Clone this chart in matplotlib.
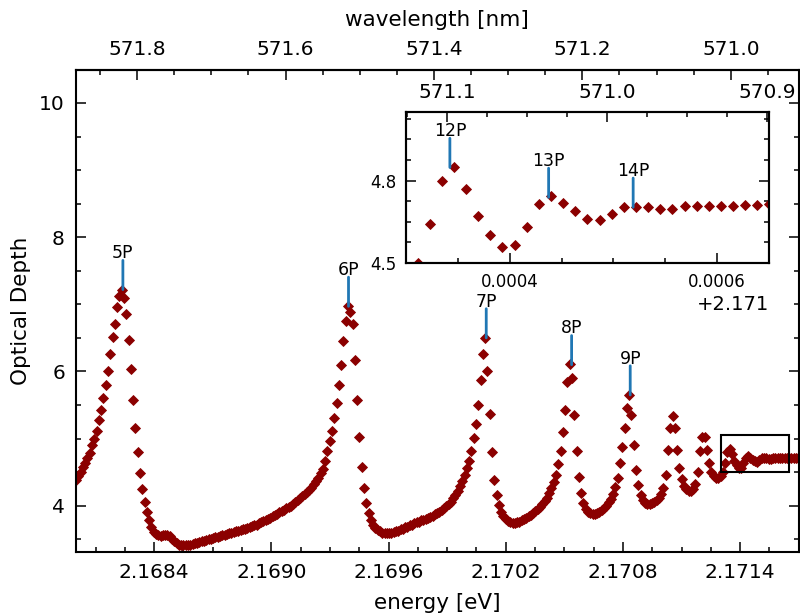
import matplotlib
matplotlib.use('Agg')
import matplotlib.pyplot as plt
from matplotlib.ticker import MultipleLocator, FixedLocator, ScalarFormatter, FormatStrFormatter
from matplotlib.patches import Rectangle
import numpy as np

HC = 1239.84198  # eV nm

# scan grid (uniform energy steps)
e_start = 2.1680
e_step = 1.17e-5

depth = [
    4.38, 4.44, 4.50, 4.57, 4.64, 4.71, 4.79, 4.90, 5.00, 5.12,
    5.27, 5.43, 5.60, 5.80, 6.01, 6.26, 6.51, 6.71, 6.96, 7.13,
    7.22, 7.09, 6.85, 6.47, 6.04, 5.58, 5.16, 4.80, 4.49, 4.25,
    4.05, 3.90, 3.78, 3.69, 3.61, 3.58, 3.56, 3.55, 3.56, 3.57,
    3.57, 3.55, 3.51, 3.47, 3.44, 3.42, 3.41, 3.41, 3.41, 3.42,
    3.42, 3.43, 3.44, 3.45, 3.46, 3.47, 3.48, 3.49, 3.50, 3.51,
    3.52, 3.53, 3.54, 3.55, 3.56, 3.57, 3.58, 3.59, 3.60, 3.61,
    3.62, 3.63, 3.64, 3.65, 3.66, 3.67, 3.68, 3.70, 3.71, 3.72,
    3.74, 3.75, 3.77, 3.78, 3.80, 3.82, 3.84, 3.86, 3.88, 3.90,
    3.92, 3.94, 3.96, 3.98, 4.00, 4.03, 4.06, 4.09, 4.11, 4.14,
    4.17, 4.20, 4.23, 4.27, 4.32, 4.37, 4.42, 4.48, 4.55, 4.66,
    4.81, 4.96, 5.11, 5.30, 5.53, 5.80, 6.10, 6.46, 6.75, 6.97,
    6.88, 6.70, 6.17, 5.58, 5.02, 4.58, 4.26, 4.04, 3.89, 3.79,
    3.72, 3.67, 3.64, 3.62, 3.60, 3.59, 3.59, 3.59, 3.60, 3.61,
    3.62, 3.63, 3.65, 3.66, 3.68, 3.69, 3.71, 3.72, 3.74, 3.75,
    3.76, 3.78, 3.79, 3.80, 3.82, 3.83, 3.85, 3.87, 3.89, 3.91,
    3.93, 3.96, 3.99, 4.02, 4.06, 4.11, 4.16, 4.22, 4.29, 4.37,
    4.46, 4.56, 4.67, 4.81, 5.01, 5.21, 5.50, 5.88, 6.26, 6.50,
    6.01, 5.37, 4.80, 4.38, 4.16, 4.01, 3.91, 3.84, 3.80, 3.77,
    3.75, 3.74, 3.74, 3.75, 3.76, 3.78, 3.80, 3.82, 3.84, 3.86,
    3.89, 3.92, 3.95, 3.98, 4.02, 4.07, 4.12, 4.19, 4.26, 4.35,
    4.46, 4.62, 4.81, 5.10, 5.43, 5.85, 6.11, 5.90, 5.35, 4.81,
    4.43, 4.19, 4.04, 3.95, 3.91, 3.89, 3.88, 3.88, 3.89, 3.91,
    3.93, 3.96, 4.00, 4.05, 4.10, 4.18, 4.28, 4.42, 4.63, 4.88,
    5.16, 5.46, 5.65, 5.35, 4.90, 4.53, 4.31, 4.16, 4.08, 4.04,
    4.03, 4.03, 4.04, 4.06, 4.09, 4.12, 4.17, 4.26, 4.45, 4.83,
    5.16, 5.33, 5.16, 4.83, 4.56, 4.40, 4.30, 4.25, 4.22, 4.22,
    4.25, 4.32, 4.50, 4.82, 5.03, 5.03, 4.83, 4.63, 4.50, 4.44,
    4.41, 4.41, 4.44, 4.500, 4.641, 4.800, 4.850, 4.768, 4.671, 4.602,
    4.558, 4.567, 4.631, 4.714, 4.743, 4.718, 4.688, 4.662, 4.656, 4.680,
    4.704, 4.704, 4.704, 4.696, 4.697, 4.708, 4.708, 4.706, 4.706, 4.709,
    4.711, 4.711, 4.714, 4.715, 4.716, 4.716, 4.717,
]
energy = e_start + e_step * np.arange(len(depth))

# exciton lines marked on the main panel
main_labels = ['5P', '6P', '7P', '8P', '9P']
main_line_e = [2.16824, 2.169395, 2.17010, 2.170537, 2.170837]
main_line_y = [7.22, 6.97, 6.50, 6.10, 5.65]

# exciton lines marked in the zoom panel
inset_labels = ['12P', '13P', '14P']
inset_line_e = [2.1713423, 2.1714375, 2.171519]
inset_line_y = [4.848, 4.739, 4.703]

main_xlim = (2.1680, 2.1717)
main_ylim = (3.31, 10.49)
wl_major = [571.8, 571.6, 571.4, 571.2, 571.0]
wl_minor = [571.85, 571.75, 571.7, 571.65, 571.55, 571.5, 571.45, 571.35, 571.3,
            571.25, 571.15, 571.1, 571.05, 570.95]

inset_xlim = (2.1713, 2.17165)
inset_ylim = (4.50, 5.05)
inset_wl_lim = (571.1256, 570.8988)

red = '#8b0000'
blue = '#2077b4'
tick_kw = dict(direction='in', width=1.1)


def mark_lines(axis, labels, xs, ys, size):
    for lab, x, y in zip(labels, xs, ys):
        axis.annotate('', xy=(x, y), xytext=(0, 21), textcoords='offset points',
                      arrowprops=dict(arrowstyle='-', color=blue, lw=2,
                                      shrinkA=0, shrinkB=0), zorder=5)
        axis.annotate(lab, xy=(x, y), xytext=(0, 22.5), textcoords='offset points',
                      ha='center', va='baseline', fontsize=size, zorder=5)


def set_ticks(axis, **kw):
    axis.tick_params(which='both', **tick_kw, **kw)
    axis.tick_params(which='major', length=7)
    axis.tick_params(which='minor', length=3.6)


fig = plt.figure(figsize=(8, 6.15), dpi=100)
ax = fig.add_axes([0.095, 0.1024, 0.9035, 0.7837])
ax.plot(energy, depth, 'D', color=red, ms=5, mew=0.6)
ax.set_xlim(*main_xlim)
ax.set_ylim(*main_ylim)
ax.xaxis.set_major_locator(MultipleLocator(0.0006))
ax.xaxis.set_minor_locator(MultipleLocator(0.00015))
ax.xaxis.set_major_formatter(FormatStrFormatter('%.4f'))
ax.yaxis.set_major_locator(MultipleLocator(2))
ax.yaxis.set_minor_locator(MultipleLocator(0.5))
set_ticks(ax, right=True, labelsize=14.5, pad=8)
ax.set_xlabel('energy [eV]', fontsize=15.5, labelpad=8)
ax.set_ylabel('Optical Depth', fontsize=15.5, labelpad=6)
for s in ax.spines.values():
    s.set_linewidth(1.5)

sec = ax.secondary_xaxis('top', functions=(lambda e: HC / e, lambda w: HC / w))
sec.xaxis.set_major_locator(FixedLocator(wl_major))
sec.xaxis.set_minor_locator(FixedLocator(wl_minor))
sec.xaxis.set_major_formatter(FormatStrFormatter('%.1f'))
set_ticks(sec, labelsize=14.5, pad=8)
sec.set_xlabel('wavelength [nm]', fontsize=15.5, labelpad=10)
sec.spines['top'].set_linewidth(1.5)

mark_lines(ax, main_labels, main_line_e, main_line_y, 12.5)

ax.add_patch(Rectangle((inset_xlim[0], inset_ylim[0]), inset_xlim[1] - inset_xlim[0],
                       inset_ylim[1] - inset_ylim[0], fill=False, ec='black', lw=1.5,
                       zorder=4))

ins = fig.add_axes([0.5075, 0.5724, 0.4538, 0.2455])
ins.plot(energy, depth, 'D', color=red, ms=5, mew=0.6)
ins.set_xlim(*inset_xlim)
ins.set_ylim(*inset_ylim)
ins.xaxis.set_major_locator(MultipleLocator(0.0002))
ins.xaxis.set_minor_locator(MultipleLocator(0.00005))
ins.xaxis.set_major_formatter(ScalarFormatter(useOffset=2.171))
ins.yaxis.set_major_locator(MultipleLocator(0.3))
ins.yaxis.set_minor_locator(MultipleLocator(0.075))
set_ticks(ins, right=True, labelsize=12, pad=7)
ins.xaxis.get_offset_text().set_fontsize(14)
for s in ins.spines.values():
    s.set_linewidth(1.5)
mark_lines(ins, inset_labels, inset_line_e, inset_line_y, 12.5)

ins_top = ins.twiny()
ins_top.set_xlim(*inset_wl_lim)
ins_top.xaxis.set_major_locator(MultipleLocator(0.1))
ins_top.xaxis.set_minor_locator(MultipleLocator(0.025))
ins_top.xaxis.set_major_formatter(FormatStrFormatter('%.1f'))
set_ticks(ins_top, labelsize=14.5, pad=7)
for s in ins_top.spines.values():
    s.set_linewidth(1.5)

fig.savefig('out.png', dpi=100)
